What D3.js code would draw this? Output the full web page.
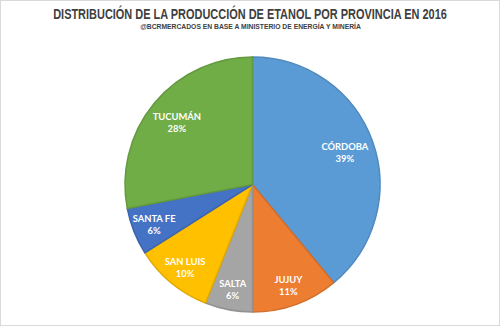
<!DOCTYPE html>
<html>
<head>
<meta charset="utf-8">
<script src="https://cdn.jsdelivr.net/npm/d3@7"></script>
<style>
html,body{margin:0;padding:0;background:#fff;}
svg{display:block;}
</style>
</head>
<body>
<svg id="chart" width="500" height="326"></svg>
<script>
const titleText = "DISTRIBUCIÓN DE LA PRODUCCIÓN DE ETANOL POR PROVINCIA EN 2016";
const subtitleText = "@BCRMERCADOS EN BASE A MINISTERIO DE ENERGÍA Y MINERÍA";
const categories = ["CÓRDOBA", "JUJUY", "SALTA", "SAN LUIS", "SANTA FE", "TUCUMÁN"];
const values = [39, 11, 6, 10, 6, 28];
const colors = ["#5B9BD5", "#ED7D31", "#A5A5A5", "#FFC000", "#4472C4", "#70AD47"];

const W = 500, H = 326;
const cx = 252.5, cy = 184.5, R = 127.5;
const svg = d3.select("#chart");

svg.append("rect").attr("x", 0.5).attr("y", 0.5).attr("width", W - 1).attr("height", H - 1)
  .attr("fill", "#fff").attr("stroke", "#d9d9d9");

// condensed headings: draw at the reference height, squeeze horizontally to the reference width
function condensed(txt, x, y, size, width) {
  const t = svg.append("text").attr("text-anchor", "middle")
    .attr("font-family", "'Liberation Sans Narrow','Liberation Sans',sans-serif")
    .attr("font-weight", "bold").attr("font-size", size).attr("fill", "#404040")
    .text(txt);
  const w = t.node().getComputedTextLength();
  t.attr("transform", `translate(${x},${y}) scale(${width / w},1)`);
  return t;
}
condensed(titleText, 250, 19, 15, 394);
condensed(subtitleText, 250.5, 28.5, 7.6, 221);

const data = categories.map((c, i) => ({cat: c, val: values[i], color: colors[i]}));
const pie = d3.pie().value(d => d.val).sort(null);
const arcs = pie(data);
const arc = d3.arc().innerRadius(0).outerRadius(R);
// best-fit style: larger slices keep labels nearer the centre
const labelPos = d => {
  const r = (d.endAngle - d.startAngle) > Math.PI / 2 ? R * 0.77 : R * 0.83;
  return d3.arc().innerRadius(r).outerRadius(r).centroid(d);
};

const g = svg.append("g").attr("transform", `translate(${cx},${cy})`);
g.selectAll("path").data(arcs).join("path")
  .attr("d", arc)
  .attr("fill", d => d.data.color)
  .attr("stroke", d => d3.color(d.data.color).darker(0.35))
  .attr("stroke-width", 1.5)
  .attr("stroke-linejoin", "round");

const lab = g.selectAll("g.lab").data(arcs).join("g").attr("class", "lab")
  .attr("transform", d => `translate(${labelPos(d)})`);
lab.append("text").attr("text-anchor", "middle").attr("y", -1.5)
  .attr("font-family", "Lato,'Open Sans',sans-serif").attr("font-weight", "bold")
  .attr("font-size", 9.4).attr("fill", "#fff").text(d => d.data.cat);
lab.append("text").attr("text-anchor", "middle").attr("y", 10.5)
  .attr("font-family", "Lato,'Open Sans',sans-serif").attr("font-weight", "bold")
  .attr("font-size", 9.4).attr("fill", "#fff").text(d => d.data.val + "%");
</script>
</body>
</html>
